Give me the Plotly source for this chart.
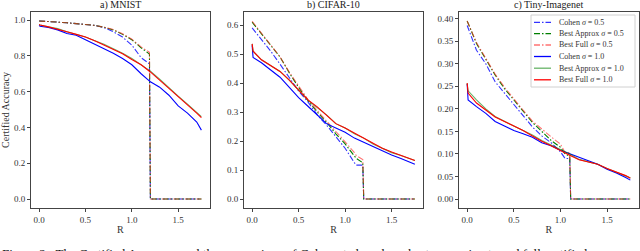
import plotly.graph_objects as go

# ---------------- data ----------------
R_SIG05_A = [0.0, 0.1, 0.2, 0.3, 0.4, 0.5, 0.6, 0.7, 0.8, 0.9, 1.0, 1.1, 1.19, 1.2, 1.75]
mnist_cohen05 = [0.995, 0.993, 0.99, 0.985, 0.98, 0.977, 0.97, 0.958, 0.935, 0.905, 0.86, 0.79, 0.755, 0.0, 0.0]
mnist_approx05 = [0.995, 0.993, 0.99, 0.985, 0.98, 0.977, 0.97, 0.96, 0.945, 0.92, 0.89, 0.845, 0.81, 0.0, 0.0]
mnist_full05 = [0.995, 0.993, 0.99, 0.985, 0.98, 0.977, 0.97, 0.96, 0.947, 0.923, 0.893, 0.85, 0.82, 0.0, 0.0]

R_SIG10 = [0.0, 0.01, 0.1, 0.2, 0.3, 0.4, 0.5, 0.6, 0.7, 0.8, 0.9, 1.0, 1.1, 1.2, 1.3, 1.4, 1.5, 1.6, 1.7, 1.75]
mnist_cohen10 = [0.97, 0.965, 0.958, 0.945, 0.925, 0.915, 0.89, 0.865, 0.84, 0.815, 0.785, 0.75, 0.7, 0.655, 0.625, 0.58, 0.52, 0.48, 0.43, 0.385]
mnist_approx10 = [0.975, 0.972, 0.962, 0.952, 0.935, 0.92, 0.905, 0.885, 0.865, 0.84, 0.815, 0.785, 0.75, 0.715, 0.67, 0.62, 0.575, 0.53, 0.485, 0.46]
mnist_full10 = [0.975, 0.972, 0.962, 0.95, 0.935, 0.92, 0.905, 0.885, 0.862, 0.838, 0.812, 0.78, 0.75, 0.71, 0.665, 0.62, 0.57, 0.525, 0.48, 0.455]

R_SIG05_B = [0.0, 0.1, 0.2, 0.3, 0.4, 0.5, 0.6, 0.7, 0.8, 0.9, 1.0, 1.1, 1.12, 1.19, 1.2, 1.75]
cifar_cohen05 = [0.59, 0.55, 0.51, 0.465, 0.42, 0.372, 0.335, 0.29, 0.255, 0.215, 0.175, 0.125, 0.117, 0.117, 0.0, 0.0]
cifar_approx05 = [0.61, 0.57, 0.53, 0.49, 0.435, 0.385, 0.34, 0.3, 0.265, 0.225, 0.19, 0.15, 0.14, 0.125, 0.0, 0.0]
cifar_full05 = [0.613, 0.572, 0.532, 0.49, 0.437, 0.388, 0.343, 0.305, 0.27, 0.232, 0.197, 0.16, 0.15, 0.136, 0.0, 0.0]

cifar_cohen10 = [0.53, 0.488, 0.47, 0.445, 0.42, 0.385, 0.35, 0.32, 0.29, 0.26, 0.245, 0.23, 0.21, 0.195, 0.18, 0.165, 0.152, 0.14, 0.128, 0.12]
cifar_approx10 = [0.535, 0.51, 0.48, 0.46, 0.44, 0.41, 0.375, 0.34, 0.315, 0.29, 0.26, 0.245, 0.225, 0.21, 0.19, 0.175, 0.16, 0.15, 0.14, 0.133]
cifar_full10 = [0.535, 0.51, 0.48, 0.46, 0.44, 0.41, 0.377, 0.342, 0.318, 0.29, 0.26, 0.245, 0.228, 0.21, 0.192, 0.175, 0.162, 0.15, 0.14, 0.133]

R_SIG05_C = [0.0, 0.1, 0.2, 0.3, 0.4, 0.5, 0.6, 0.7, 0.8, 0.9, 1.0, 1.05, 1.1, 1.11, 1.75]
tiny_cohen05 = [0.385, 0.33, 0.3, 0.26, 0.235, 0.21, 0.185, 0.16, 0.14, 0.125, 0.105, 0.09, 0.09, 0.0, 0.0]
tiny_approx05 = [0.395, 0.345, 0.31, 0.275, 0.245, 0.22, 0.195, 0.17, 0.15, 0.13, 0.115, 0.1, 0.095, 0.0, 0.0]
tiny_full05 = [0.395, 0.347, 0.312, 0.277, 0.248, 0.222, 0.197, 0.173, 0.155, 0.138, 0.122, 0.103, 0.103, 0.0, 0.0]

tiny_cohen10 = [0.255, 0.22, 0.205, 0.19, 0.172, 0.162, 0.152, 0.145, 0.137, 0.125, 0.118, 0.108, 0.1, 0.092, 0.084, 0.077, 0.066, 0.058, 0.048, 0.042]
tiny_approx10 = [0.257, 0.24, 0.22, 0.2, 0.183, 0.172, 0.162, 0.152, 0.142, 0.13, 0.12, 0.11, 0.1, 0.088, 0.082, 0.077, 0.068, 0.06, 0.052, 0.047]
tiny_full10 = [0.257, 0.235, 0.213, 0.197, 0.182, 0.172, 0.162, 0.152, 0.14, 0.128, 0.118, 0.107, 0.097, 0.087, 0.082, 0.077, 0.068, 0.06, 0.052, 0.046]

TITLES = ["a) MNIST", "b) CIFAR-10", "c) Tiny-Imagenet"]
NAMES = ["Cohen <i>σ</i> = 0.5", "Best Approx <i>σ</i> = 0.5", "Best Full <i>σ</i> = 0.5",
         "Cohen <i>σ</i> = 1.0", "Best Approx <i>σ</i> = 1.0", "Best Full <i>σ</i> = 1.0"]
X_TICKS = [0.0, 0.5, 1.0, 1.5]
Y_TICKS_A = [0.0, 0.2, 0.4, 0.6, 0.8, 1.0]
Y_TICKS_B = [0.0, 0.1, 0.2, 0.3, 0.4, 0.5, 0.6]
Y_TICKS_C = [0.0, 0.05, 0.1, 0.15, 0.2, 0.25, 0.3, 0.35, 0.4]
CAPTION = "Figure 2:  The Certified Accuracy and the comparison of Cohen et al. and our best approximate and full certified"

panels = [
    (R_SIG05_A, [mnist_cohen05, mnist_approx05, mnist_full05], R_SIG10, [mnist_cohen10, mnist_approx10, mnist_full10]),
    (R_SIG05_B, [cifar_cohen05, cifar_approx05, cifar_full05], R_SIG10, [cifar_cohen10, cifar_approx10, cifar_full10]),
    (R_SIG05_C, [tiny_cohen05, tiny_approx05, tiny_full05], R_SIG10, [tiny_cohen10, tiny_approx10, tiny_full10]),
]

# ---------------- styles ----------------
W, H = 640, 251
FONT = "Liberation Serif"
colors05 = ["rgba(0,0,255,0.8)", "#007f00", "rgba(255,40,40,0.65)"]
colors10 = ["#0000ff", "rgba(0,128,0,0.6)", "#ff0000"]
LW = 1.1
DASHDOT = "6px,2px,1.5px,2px"

fig = go.Figure()
for i, (r05, s05, r10, s10) in enumerate(panels):
    xa = "x" if i == 0 else f"x{i+1}"
    ya = "y" if i == 0 else f"y{i+1}"
    for k in range(3):
        fig.add_trace(go.Scatter(x=r05, y=s05[k], mode="lines", name=NAMES[k],
                                 line=dict(color=colors05[k], width=LW, dash=DASHDOT),
                                 xaxis=xa, yaxis=ya, showlegend=False))
    for k in range(3):
        fig.add_trace(go.Scatter(x=r10, y=s10[k], mode="lines", name=NAMES[k + 3],
                                 line=dict(color=colors10[k], width=LW),
                                 xaxis=xa, yaxis=ya, showlegend=False))

x_domains = [[31 / W, 209.5 / W], [244 / W, 423 / W], [459 / W, 638.5 / W]]
y_dom = [(H - 208) / H, (H - 12) / H]
y_ranges = [[-0.05, 1.045], [-0.031, 0.645], [-0.0198, 0.4148]]
y_ticks = [Y_TICKS_A, Y_TICKS_B, Y_TICKS_C]
y_fmt = [".1f", ".1f", ".2f"]

axis_common = dict(showline=True, linecolor="#444", linewidth=1, mirror=True, ticks="outside",
                   ticklen=3, tickwidth=0.8, tickcolor="#444", showgrid=False, zeroline=False,
                   tickfont=dict(family=FONT, size=9, color="#333"))
layout = {}
for i in range(3):
    xk = "xaxis" if i == 0 else f"xaxis{i+1}"
    yk = "yaxis" if i == 0 else f"yaxis{i+1}"
    layout[xk] = dict(domain=x_domains[i], range=[-0.0875, 1.8375], tickvals=X_TICKS,
                      ticktext=[f"{v:.1f}" for v in X_TICKS], anchor="y" if i == 0 else f"y{i+1}",
                      title=dict(text="R", font=dict(family=FONT, size=10, color="#333"), standoff=2),
                      **axis_common)
    layout[yk] = dict(domain=y_dom, range=y_ranges[i], tickvals=y_ticks[i],
                      ticktext=[format(v, y_fmt[i]) for v in y_ticks[i]],
                      anchor="x" if i == 0 else f"x{i+1}", **axis_common)
layout["yaxis"]["title"] = dict(text="Certified Accuracy", font=dict(family=FONT, size=10, color="#333"), standoff=2)

annotations = []
for i in range(3):
    annotations.append(dict(text=TITLES[i], x=sum(x_domains[i]) / 2, y=y_dom[1], xref="paper", yref="paper",
                            xanchor="center", yanchor="bottom", showarrow=False, yshift=-1,
                            font=dict(family=FONT, size=10, color="#222")))
annotations.append(dict(text=CAPTION, x=0, y=-12 / H, xref="paper", yref="paper", xanchor="left", yanchor="bottom",
                        showarrow=False, font=dict(family=FONT, size=13, color="#111")))

# legend box (inside panel c, top right)
shapes = [dict(type="rect", xref="paper", yref="paper", x0=531 / W, x1=635 / W,
               y0=(H - 87) / H, y1=(H - 15) / H, fillcolor="rgba(255,255,255,0.85)",
               line=dict(color="#d0d0d0", width=1), layer="above")]
row_y = [22.3, 33.7, 45.0, 56.5, 68.2, 79.8]
styles = [(colors05[k], DASHDOT) for k in range(3)] + [(colors10[k], "solid") for k in range(3)]
for j in range(6):
    yy = (H - row_y[j]) / H
    shapes.append(dict(type="line", xref="paper", yref="paper", x0=534 / W, x1=551 / W, y0=yy, y1=yy,
                       line=dict(color=styles[j][0], width=LW + 0.2, dash=styles[j][1]), layer="above"))
    annotations.append(dict(text=NAMES[j], x=557 / W, y=yy, xref="paper", yref="paper",
                            xanchor="left", yanchor="middle", showarrow=False,
                            font=dict(family=FONT, size=8, color="#333")))

fig.update_layout(
    width=W, height=H, margin=dict(l=0, r=0, t=0, b=0),
    paper_bgcolor="white", plot_bgcolor="white",
    annotations=annotations, shapes=shapes, showlegend=False,
    **layout,
)
fig.write_html("out.html", config={"displayModeBar": False},
               post_script="document.body.style.margin='0';document.body.style.overflow='hidden';")
